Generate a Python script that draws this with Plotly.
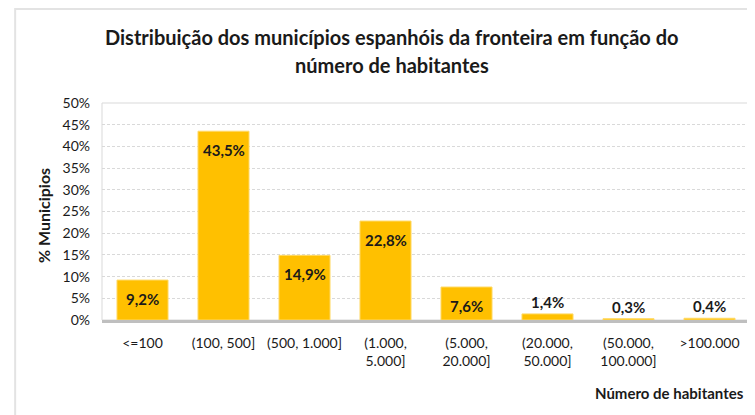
import plotly.graph_objects as go

categories = ["<=100", "(100, 500]", "(500, 1.000]", "(1.000,<br>5.000]",
              "(5.000,<br>20.000]", "(20.000,<br>50.000]", "(50.000,<br>100.000]", ">100.000"]
values = [9.2, 43.5, 14.9, 22.8, 7.6, 1.4, 0.3, 0.4]
value_labels = ["9,2%", "43,5%", "14,9%", "22,8%", "7,6%", "1,4%", "0,3%", "0,4%"]
y_ticks = [0, 5, 10, 15, 20, 25, 30, 35, 40, 45, 50]
y_tick_labels = [f"{t}%" for t in y_ticks]
title_lines = ["Distribuição dos municípios espanhóis da fronteira em função do",
               "número de habitantes"]

BAR = "#FFC000"
TXT = "#1a1a1a"
FONT = "Lato, 'Open Sans', sans-serif"
tick_font = dict(family=FONT, size=14, color=TXT)

fig = go.Figure()
fig.add_trace(go.Bar(
    x=categories, y=values, marker=dict(color=BAR, line=dict(color="#FFD966", width=1)),
    hoverinfo="skip", showlegend=False,
))

annotations = []
for c, v, lab in zip(categories, values, value_labels):
    inside = v > 5
    annotations.append(dict(
        x=c, y=v, xref="x", yref="y", text=f"<b>{lab}</b>", showarrow=False,
        yshift=-19 if inside else 12,
        font=dict(family=FONT, size=15, color=TXT),
    ))

# title lines
for txt, yy in zip(title_lines, [1.304, 1.175]):
    annotations.append(dict(
        x=0.4475, y=yy, xref="paper", yref="paper", xanchor="center", yanchor="middle",
        text=f"<b>{txt}</b>", showarrow=False,
        font=dict(family=FONT, size=20, color=TXT),
    ))

annotations.append(dict(
    x=0.994, y=-0.336, xref="paper", yref="paper", xanchor="right", yanchor="middle",
    text="<b>Número de habitantes</b>", showarrow=False,
    font=dict(family=FONT, size=15, color=TXT),
))
annotations.append(dict(
    x=-0.091, y=0.479, xref="paper", yref="paper", xanchor="center", yanchor="middle",
    text="<b>% Municipios</b>", showarrow=False, textangle=-90,
    font=dict(family=FONT, size=16, color=TXT),
))

fig.update_layout(
    width=747, height=407,
    margin=dict(l=94, r=5, t=95, b=95),
    paper_bgcolor="white", plot_bgcolor="white",
    bargap=0.37,
    annotations=annotations,
    shapes=[
        dict(type="rect", xref="paper", yref="paper", x0=0, x1=1, y0=0, y1=1,
             line=dict(color="#d9d9d9", width=1), layer="below"),
        dict(type="path", xref="paper", yref="paper",
             path="M -0.134,-0.6 L -0.134,1.433 L 1.05,1.433",
             line=dict(color="#e3e3e3", width=2)),
    ],
)
fig.update_yaxes(
    range=[0, 50], tickvals=y_ticks, ticktext=y_tick_labels,
    showgrid=True, gridcolor="#d9d9d9", griddash="3px,2px", gridwidth=1,
    zeroline=False, showline=False, tickfont=tick_font, ticks="", ticklabelstandoff=11,
)
fig.update_xaxes(
    showline=True, linecolor="#bfbfbf", linewidth=2.5, tickfont=tick_font,
    ticks="", ticklabelstandoff=8, tickangle=0,
)

fig.write_html("out.html")
